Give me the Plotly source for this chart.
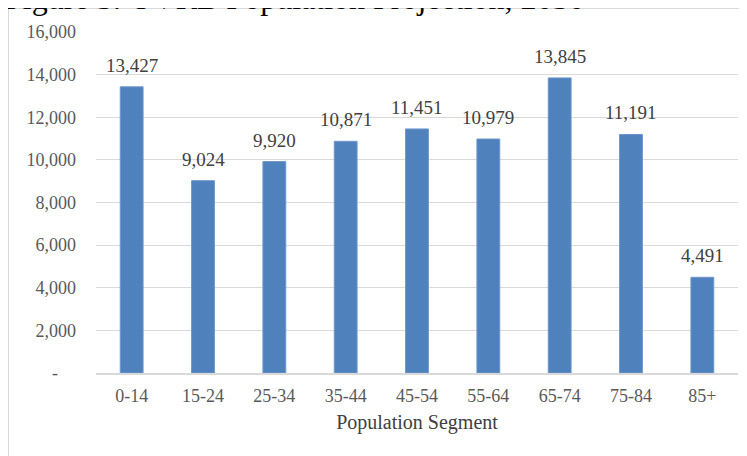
import plotly.graph_objects as go

categories = ["0-14", "15-24", "25-34", "35-44", "45-54", "55-64", "65-74", "75-84", "85+"]
population = [13427, 9024, 9920, 10871, 11451, 10979, 13845, 11191, 4491]
y_tick_vals = [0, 2000, 4000, 6000, 8000, 10000, 12000, 14000, 16000]
y_tick_text = ["-\u00a0\u00a0\u00a0\u00a0", "2,000", "4,000", "6,000", "8,000", "10,000", "12,000", "14,000", "16,000"]
title_text = "Figure 5: UVRB Population Projection, 2030"
x_title = "Population Segment"

# page has an 8px body margin; figure sized to fill the rest of the 747x456 view
W, H = 739, 448
ML, MR, MT, MB = 88, 9, 24, 83
PW, PH = W - ML - MR, H - MT - MB

FONT = "Liberation Serif, Times New Roman, serif"

fig = go.Figure()
fig.add_trace(go.Bar(
    x=categories, y=population,
    marker=dict(color="#4F81BD", line=dict(color="#6E96CB", width=1)),
    width=0.32,
    hoverinfo="x+y",
))

annotations = []
for c, v in zip(categories, population):
    annotations.append(dict(
        x=c, y=v, xref="x", yref="y", text=f"{v:,}", showarrow=False,
        yanchor="bottom", yshift=9,
        font=dict(family=FONT, size=19, color="#404040"),
    ))

def px_to_paper_x(px):
    return (px - ML) / PW

def px_to_paper_y(py):
    return 1 - (py - MT) / PH

annotations.append(dict(
    x=px_to_paper_x(-5), y=px_to_paper_y(-10), xref="paper", yref="paper",
    text=title_text, showarrow=False, xanchor="left", yanchor="middle",
    font=dict(family=FONT, size=32, color="#000000"),
))

fig.update_layout(
    width=W, height=H,
    margin=dict(l=ML, r=MR, t=MT, b=MB, pad=0),
    paper_bgcolor="white", plot_bgcolor="white",
    showlegend=False,
    font=dict(family=FONT, size=18, color="#595959"),
    annotations=annotations,
    shapes=[dict(
        type="rect", xref="paper", yref="paper",
        x0=px_to_paper_x(0.5), x1=px_to_paper_x(760),
        y0=px_to_paper_y(470), y1=px_to_paper_y(0.5),
        line=dict(color="#D9D9D9", width=1), fillcolor="rgba(0,0,0,0)", layer="below",
    )],
    xaxis=dict(
        showgrid=False, showline=True, linecolor="#D9D9D9", linewidth=1.5,
        ticks="", tickfont=dict(family=FONT, size=18, color="#595959"),
        ticklabelstandoff=6,
        title=dict(text=x_title, font=dict(family=FONT, size=20, color="#404040"), standoff=10),
    ),
    yaxis=dict(
        range=[0, 16000], tickvals=y_tick_vals, ticktext=y_tick_text,
        showgrid=True, gridcolor="#D9D9D9", gridwidth=1, zeroline=False,
        showline=False, ticks="",
        tickfont=dict(family=FONT, size=18, color="#595959"),
        ticklabelstandoff=19,
    ),
)

fig.write_html("out.html")
